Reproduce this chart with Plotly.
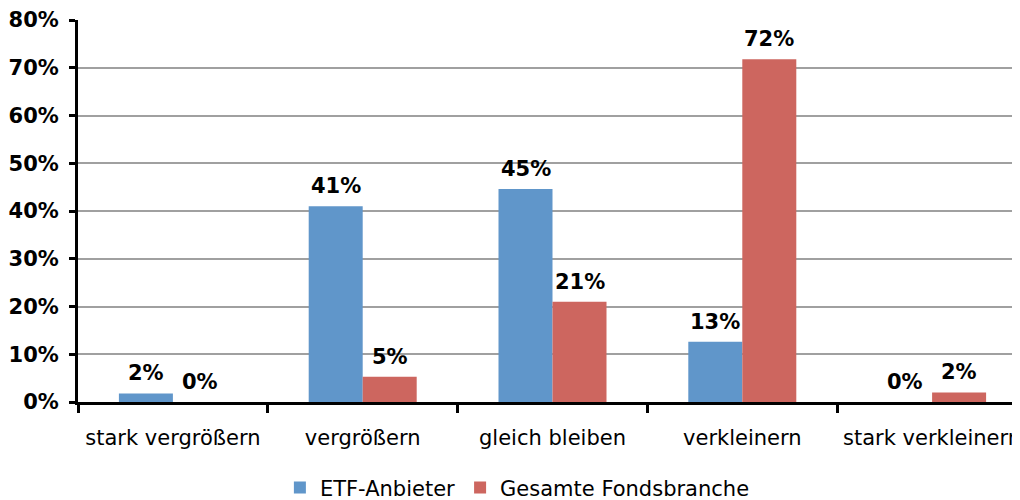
import plotly.graph_objects as go

categories = ["stark vergrößern", "vergrößern", "gleich bleiben", "verkleinern", "stark verkleinern"]
etf_values = [1.8, 41.0, 44.6, 12.6, 0.0]
fonds_values = [0.0, 5.3, 21.0, 71.8, 2.0]
etf_labels = ["2%", "41%", "45%", "13%", "0%"]
fonds_labels = ["0%", "5%", "21%", "72%", "2%"]
y_ticks = [0, 10, 20, 30, 40, 50, 60, 70, 80]

BLUE = "#6096CA"
RED = "#CD665F"
FONT = "DejaVu Sans, Arial, sans-serif"

fig = go.Figure()
fig.add_trace(go.Bar(
    x=categories, y=etf_values, name="ETF-Anbieter",
    marker=dict(color=BLUE, line=dict(width=0)),
))
fig.add_trace(go.Bar(
    x=categories, y=fonds_values, name="Gesamte Fondsbranche",
    marker=dict(color=RED, line=dict(width=0)),
))

# data labels above each bar
for series_vals, series_labels, shift in ((etf_values, etf_labels, -27), (fonds_values, fonds_labels, 27)):
    for cat, val, lab in zip(categories, series_vals, series_labels):
        fig.add_annotation(
            x=cat, y=val, text=lab, showarrow=False,
            xanchor="center", yanchor="bottom", xshift=shift, yshift=6,
            font=dict(family=FONT, size=21, color="black", weight="bold"),
        )

# page body has an 8px default margin; the plot area runs a little past the right edge
fig.update_layout(
    width=1019, height=492,
    margin=dict(l=70, r=0, t=12, b=98, autoexpand=False),
    paper_bgcolor="white", plot_bgcolor="white",
    barmode="group", bargap=0.431, bargroupgap=0,
    font=dict(family=FONT, color="black"),
    showlegend=True,
    legend=dict(orientation="h", x=0.463, xanchor="center", y=-0.225, yanchor="middle",
                font=dict(family=FONT, size=21, color="black"), itemwidth=30),
)
fig.update_yaxes(
    range=[0, 80], tickvals=y_ticks, ticktext=[f"{v}%" for v in y_ticks],
    showgrid=True, gridcolor="#A0A0A0", gridwidth=2,
    showline=True, linecolor="black", linewidth=3,
    ticks="outside", ticklen=6, tickwidth=3, tickcolor="black",
    tickfont=dict(family=FONT, size=21, color="black", weight="bold"),
    ticklabelstandoff=6,
    zeroline=False, automargin=False,
)
fig.update_xaxes(
    showline=True, linecolor="black", linewidth=3,
    ticks="outside", ticklen=8, tickwidth=3, tickcolor="black",
    tickson="boundaries", tickangle=0,
    tickfont=dict(family=FONT, size=21, color="black"),
    ticklabelstandoff=15,
    showgrid=False, automargin=False,
)

fig.write_html("out.html")
